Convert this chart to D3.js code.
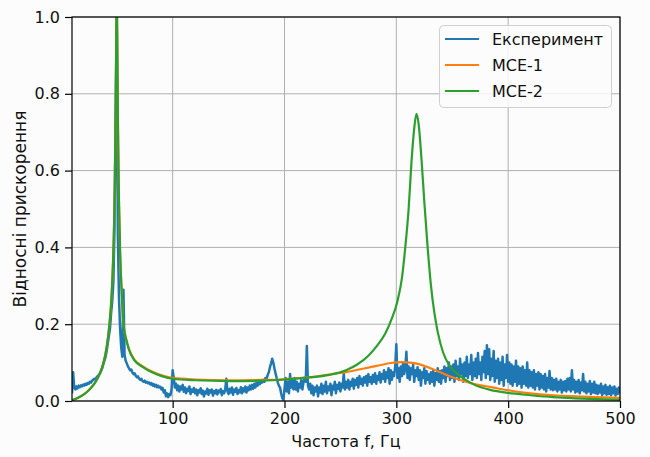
<!DOCTYPE html>
<html><head><meta charset="utf-8">
<script src="https://cdn.jsdelivr.net/npm/d3@7"></script>
<style>
html,body{margin:0;padding:0;background:#fcfcfc;}
text{font-family:"DejaVu Sans",sans-serif;fill:#111;}
</style></head>
<body><svg id="c" width="650" height="457"></svg>
<script>
// ---- DATA ----
const seriesNames = ["Експеримент", "МСЕ-1", "МСЕ-2"];
const xTicks = [100, 200, 300, 400, 500];
const yTicks = [0.0, 0.2, 0.4, 0.6, 0.8, 1.0];
const xLabel = "Частота f, Гц";
const yLabel = "Відносні прискорення";

// experiment: values at 1 Hz steps starting at 10 Hz
const expStart = 10;
const expValues = [
0.02,0.075,0.035,0.03,0.038,0.033,0.04,0.036,0.041,0.038,
0.043,0.04,0.045,0.042,0.047,0.045,0.05,0.048,0.053,0.055,
0.058,0.056,0.062,0.065,0.068,0.072,0.078,0.085,0.095,0.105,
0.115,0.13,0.15,0.17,0.19,0.23,0.26,0.31,0.45,0.75,
1.0,0.43,0.27,0.19,0.14,0.115,0.29,0.12,0.105,0.098,
0.09,0.085,0.08,0.082,0.074,0.07,0.072,0.066,0.062,0.064,
0.058,0.055,0.058,0.052,0.05,0.053,0.048,0.05,0.046,0.048,
0.043,0.047,0.04,0.044,0.038,0.042,0.036,0.04,0.035,0.037,
0.03,0.034,0.022,0.028,0.012,0.02,0.01,0.018,0.015,0.03,
0.08,0.06,0.035,0.045,0.028,0.04,0.025,0.038,0.03,0.042,
0.024,0.035,0.02,0.032,0.026,0.038,0.018,0.03,0.024,0.034,
0.02,0.03,0.015,0.028,0.022,0.033,0.018,0.027,0.012,0.025,
0.02,0.032,0.016,0.028,0.022,0.03,0.014,0.026,0.02,0.029,
0.017,0.027,0.023,0.031,0.015,0.026,0.02,0.03,0.058,0.025,
0.018,0.032,0.022,0.035,0.016,0.03,0.024,0.034,0.018,0.028,
0.022,0.036,0.02,0.033,0.025,0.038,0.022,0.035,0.028,0.04,
0.03,0.042,0.032,0.045,0.035,0.048,0.04,0.05,0.044,0.052,
0.048,0.055,0.05,0.06,0.058,0.068,0.075,0.088,0.098,0.11,
0.1,0.085,0.072,0.06,0.048,0.04,0.035,0.02,0.008,0.003,
0.03,0.06,0.025,0.05,0.02,0.07,0.035,0.055,0.03,0.06,
0.03,0.05,0.025,0.045,0.035,0.055,0.03,0.05,0.06,0.05,
0.143,0.04,0.03,0.045,0.02,0.04,0.015,0.035,0.025,0.04,
0.012,0.035,0.022,0.045,0.018,0.04,0.025,0.05,0.02,0.038,
0.028,0.045,0.015,0.04,0.03,0.05,0.02,0.042,0.032,0.048,
0.025,0.045,0.035,0.072,0.03,0.05,0.035,0.055,0.03,0.05,
0.04,0.058,0.032,0.055,0.042,0.06,0.035,0.065,0.045,0.058,
0.04,0.062,0.048,0.065,0.04,0.07,0.05,0.062,0.045,0.068,
0.05,0.072,0.045,0.065,0.055,0.075,0.048,0.07,0.058,0.08,
0.05,0.075,0.06,0.085,0.045,0.08,0.055,0.075,0.065,0.09,
0.148,0.06,0.085,0.05,0.09,0.065,0.1,0.07,0.085,0.128,
0.06,0.09,0.055,0.085,0.07,0.095,0.05,0.08,0.065,0.088,
0.055,0.08,0.04,0.075,0.06,0.085,0.045,0.078,0.055,0.07,
0.045,0.075,0.05,0.08,0.04,0.072,0.055,0.085,0.05,0.078,
0.045,0.08,0.06,0.09,0.05,0.085,0.065,0.1,0.055,0.09,
0.06,0.095,0.05,0.105,0.065,0.09,0.055,0.11,0.07,0.095,
0.05,0.1,0.065,0.115,0.06,0.095,0.07,0.12,0.055,0.1,
0.065,0.11,0.06,0.125,0.07,0.1,0.055,0.115,0.075,0.13,
0.06,0.145,0.07,0.135,0.055,0.11,0.065,0.13,0.05,0.105,
0.06,0.11,0.045,0.1,0.055,0.115,0.04,0.095,0.06,0.12,
0.05,0.1,0.045,0.095,0.04,0.09,0.05,0.105,0.04,0.09,
0.045,0.085,0.035,0.09,0.045,0.08,0.04,0.1,0.035,0.08,
0.04,0.075,0.035,0.08,0.03,0.07,0.04,0.075,0.03,0.07,
0.035,0.065,0.03,0.07,0.025,0.06,0.035,0.078,0.03,0.06,
0.028,0.055,0.03,0.058,0.025,0.05,0.03,0.055,0.022,0.05,
0.028,0.052,0.025,0.058,0.03,0.06,0.025,0.08,0.03,0.055,
0.022,0.05,0.025,0.055,0.02,0.048,0.028,0.07,0.025,0.05,
0.02,0.045,0.025,0.052,0.018,0.045,0.022,0.05,0.02,0.042,
0.018,0.04,0.022,0.045,0.015,0.038,0.02,0.042,0.016,0.036,
0.018,0.04,0.015,0.035,0.02,0.038,0.014,0.032,0.018,0.035,
0.02
];

// model MCE-2
const mce2Freq = [10,15,20,25,30,35,38,41,43.5,45.5,47,48.3,49.2,49.6,50,50.4,51,52,53,54.5,56,58.5,61,66,73,82,91,100,120,150,180,200,220,240,255,265,275,283,290,296,301,305,308,311,313.5,316,318,320,322.5,325,328,331,334,337,342,348,354,362,370,384,400,420,440,460,480,500];
const mce2Vals = [0.002,0.008,0.016,0.028,0.045,0.072,0.098,0.14,0.20,0.28,0.39,0.56,0.80,0.96,1.06,0.96,0.74,0.52,0.39,0.28,0.20,0.16,0.133,0.105,0.089,0.074,0.064,0.058,0.054,0.052,0.053,0.056,0.061,0.068,0.080,0.095,0.118,0.145,0.175,0.215,0.26,0.32,0.40,0.50,0.62,0.71,0.748,0.72,0.63,0.52,0.40,0.30,0.23,0.18,0.125,0.09,0.072,0.055,0.042,0.029,0.021,0.015,0.010,0.007,0.005,0.003];

// model MCE-1
const mce1Freq = [10,15,20,25,30,35,38,41,43.5,45.5,47,48.3,49.2,49.6,50,50.4,51,52,53,54.5,56,58.5,61,66,73,82,91,100,120,150,180,196,210,226,240,256,270,285,295,305,312,320,330,340,350,360,370,385,400,420,440,460,480,500];
const mce1Vals = [0.002,0.008,0.016,0.028,0.045,0.072,0.098,0.14,0.20,0.28,0.39,0.56,0.80,0.96,1.06,0.96,0.74,0.52,0.39,0.28,0.20,0.16,0.135,0.107,0.091,0.076,0.066,0.060,0.056,0.054,0.055,0.056,0.059,0.063,0.069,0.076,0.084,0.093,0.099,0.101,0.100,0.096,0.086,0.074,0.062,0.052,0.044,0.036,0.028,0.020,0.015,0.012,0.010,0.008];

const colors = ["#1f77b4", "#ff7f0e", "#2ca02c"];

// ---- CHART ----
const svg = d3.select("#c");
const L = 72, R = 620, T = 17, B = 401;
const x = d3.scaleLinear().domain([10, 500]).range([L, R]);
const y = d3.scaleLinear().domain([0, 1]).range([B, T]);

svg.append("rect").attr("width",650).attr("height",457).attr("fill","#fcfcfc");

// grid
const g = svg.append("g");
g.selectAll(".gx").data(xTicks).join("line")
  .attr("x1", d => x(d)).attr("x2", d => x(d)).attr("y1", T).attr("y2", B)
  .attr("stroke", "#b0b0b0").attr("stroke-width", 1);
g.selectAll(".gy").data(yTicks).join("line")
  .attr("x1", L).attr("x2", R).attr("y1", d => y(d)).attr("y2", d => y(d))
  .attr("stroke", "#b0b0b0").attr("stroke-width", 1);

svg.append("clipPath").attr("id","clip").append("rect")
  .attr("x", L).attr("y", T).attr("width", R-L).attr("height", B-T);

const expData = expValues.map((v,i) => [expStart + i, v]);
const m1 = mce1Freq.map((f,i) => [f, mce1Vals[i]]);
const m2 = mce2Freq.map((f,i) => [f, mce2Vals[i]]);

const lineLin = d3.line().x(d => x(d[0])).y(d => y(d[1]));
const lineSm = d3.line().x(d => x(d[0])).y(d => y(d[1])).curve(d3.curveMonotoneX);

const pg = svg.append("g").attr("clip-path","url(#clip)");
pg.append("path").datum(expData).attr("d", lineLin).attr("fill","none")
  .attr("stroke", colors[0]).attr("stroke-width", 2.5).attr("stroke-linejoin","round");
pg.append("path").datum(m1).attr("d", lineSm).attr("fill","none")
  .attr("stroke", colors[1]).attr("stroke-width", 2.2);
pg.append("path").datum(m2).attr("d", lineSm).attr("fill","none")
  .attr("stroke", colors[2]).attr("stroke-width", 2.2);

// axes
const xAxis = d3.axisBottom(x).tickValues(xTicks).tickSize(7).tickPadding(5).tickFormat(d3.format("d"));
const yAxis = d3.axisLeft(y).tickValues(yTicks).tickSize(7).tickPadding(5).tickFormat(d3.format(".1f"));
const ax = svg.append("g").attr("transform", `translate(0,${B})`).call(xAxis);
const ay = svg.append("g").attr("transform", `translate(${L},0)`).call(yAxis);
[ax, ay].forEach(a => {
  a.select(".domain").remove();
  a.selectAll("line").attr("stroke", "#000").attr("stroke-width", 1.2);
  a.selectAll("text").attr("font-size", 16).attr("font-family", "DejaVu Sans").attr("fill", "#111");
});
// frame
svg.append("rect").attr("x", L).attr("y", T).attr("width", R-L).attr("height", B-T)
  .attr("fill","none").attr("stroke","#000").attr("stroke-width",1.2);

svg.append("text").attr("x", (L+R)/2).attr("y", 447).attr("text-anchor","middle")
  .attr("font-size", 16).text(xLabel);
svg.append("text").attr("transform", `translate(26,${(T+B)/2}) rotate(-90)`)
  .attr("text-anchor","middle").attr("font-size", 17).text(yLabel);

// legend
const lg = svg.append("g");
lg.append("rect").attr("x", 439.5).attr("y", 25.5).attr("width", 172).attr("height", 82)
  .attr("rx", 4).attr("fill", "#fcfcfc").attr("fill-opacity", 0.85).attr("stroke", "#d0d0d0");
seriesNames.forEach((n, i) => {
  const yy = 39 + i * 26;
  lg.append("line").attr("x1", 445).attr("x2", 479).attr("y1", yy).attr("y2", yy)
    .attr("stroke", colors[i]).attr("stroke-width", 2.2);
  lg.append("text").attr("x", 492).attr("y", yy + 6).attr("font-size", 16).text(n);
});
</script></body></html>
